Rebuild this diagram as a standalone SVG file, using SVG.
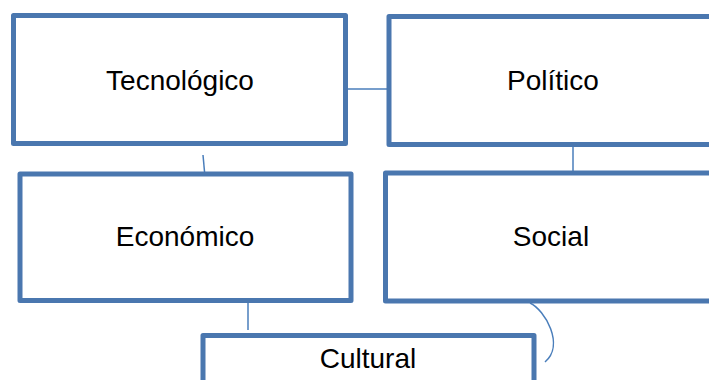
<svg xmlns="http://www.w3.org/2000/svg" width="709" height="380" viewBox="0 0 709 380">
  <style>
    .box { fill: #ffffff; stroke: #4a77af; stroke-width: 5; stroke-linejoin: round; }
    .label { font-family: "Liberation Sans", Arial, sans-serif; font-size: 28px; fill: #000000; text-anchor: middle; }
    .link { fill: none; stroke: #4a7ebb; stroke-width: 1.5; }
  </style>
  <rect width="709" height="380" fill="#ffffff"/>

  <g id="connectors">
    <line class="link" x1="341" y1="89" x2="391" y2="89"/>
    <line class="link" x1="203" y1="155" x2="205" y2="177"/>
    <line class="link" x1="573" y1="144" x2="573" y2="176"/>
    <line class="link" x1="248" y1="303" x2="248" y2="330"/>
    <path class="link" d="M530,303 C545,310 565,345 545,362"/>
  </g>

  <g id="tecnologico">
    <rect class="box" x="13.5" y="15.5" width="332" height="128"/>
    <text class="label" x="180" y="90">Tecnológico</text>
  </g>

  <g id="politico">
    <rect class="box" x="389" y="16.5" width="330" height="128"/>
    <text class="label" x="553" y="90">Político</text>
  </g>

  <g id="economico">
    <rect class="box" x="20" y="174" width="331" height="126.5"/>
    <text class="label" x="185" y="246">Económico</text>
  </g>

  <g id="social">
    <rect class="box" x="385.5" y="173" width="333" height="128"/>
    <text class="label" x="551" y="246">Social</text>
  </g>

  <g id="cultural">
    <rect class="box" x="203" y="335.5" width="331" height="60"/>
    <text class="label" x="368" y="368">Cultural</text>
  </g>
</svg>
